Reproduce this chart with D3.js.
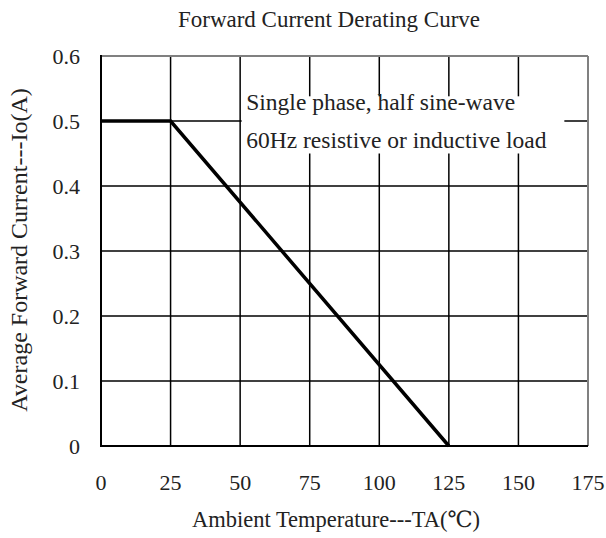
<!DOCTYPE html>
<html>
<head>
<meta charset="utf-8">
<script src="https://cdn.jsdelivr.net/npm/d3@7"></script>
<style>
  body { margin: 0; background: #fff; }
  text { font-family: "Liberation Serif", "DejaVu Serif", serif; fill: #222; }
</style>
</head>
<body>
<script>
var width = 606;
var height = 538;

var xTicks = [0, 25, 50, 75, 100, 125, 150, 175];
var yTicks = [0, 0.1, 0.2, 0.3, 0.4, 0.5, 0.6];
var curveTemp = [0, 25, 125];
var curveCurrent = [0.5, 0.5, 0];
var noteLines = ['Single phase, half sine-wave', '60Hz resistive or inductive load'];

var plotLeft = 101, plotRight = 588, plotTop = 56, plotBottom = 446;

var x = d3.scaleLinear().domain([0, 175]).range([plotLeft, plotRight]);
var y = d3.scaleLinear().domain([0, 0.6]).range([plotBottom, plotTop]);

var svg = d3.select('body').append('svg')
    .attr('width', width)
    .attr('height', height);

// grid
svg.append('g').selectAll('line')
    .data(xTicks.slice(1, -1))
    .enter().append('line')
    .attr('x1', function(d) { return x(d); })
    .attr('x2', function(d) { return x(d); })
    .attr('y1', plotTop).attr('y2', plotBottom)
    .attr('stroke', '#000').attr('stroke-width', 1.5);

svg.append('g').selectAll('line')
    .data(yTicks.slice(1, -1))
    .enter().append('line')
    .attr('x1', plotLeft).attr('x2', plotRight)
    .attr('y1', function(d) { return y(d); })
    .attr('y2', function(d) { return y(d); })
    .attr('stroke', '#000').attr('stroke-width', 1.5);

// frame: top and right grey, left and bottom black
svg.append('line').attr('x1', plotLeft).attr('x2', plotRight).attr('y1', plotTop).attr('y2', plotTop)
    .attr('stroke', '#808080').attr('stroke-width', 2);
svg.append('line').attr('x1', plotRight).attr('x2', plotRight).attr('y1', plotTop).attr('y2', plotBottom)
    .attr('stroke', '#808080').attr('stroke-width', 2);
svg.append('line').attr('x1', plotLeft).attr('x2', plotLeft).attr('y1', plotTop - 1).attr('y2', plotBottom + 1)
    .attr('stroke', '#000').attr('stroke-width', 2);
svg.append('line').attr('x1', plotLeft).attr('x2', plotRight).attr('y1', plotBottom).attr('y2', plotBottom)
    .attr('stroke', '#000').attr('stroke-width', 2);

// note box
svg.append('rect')
    .attr('x', x(50) + 1.5)
    .attr('y', y(0.538))
    .attr('width', x(166.5) - x(50) - 1.5)
    .attr('height', y(0.45) - y(0.538))
    .attr('fill', '#fff');

svg.append('g').selectAll('text')
    .data(noteLines)
    .enter().append('text')
    .attr('x', x(52.2))
    .attr('y', function(d, i) { return 110 + i * 38; })
    .attr('font-size', 23.5)
    .text(function(d) { return d; });

// curve
var line = d3.line()
    .x(function(d) { return x(d[0]); })
    .y(function(d) { return y(d[1]); });

svg.append('path')
    .datum(d3.zip(curveTemp, curveCurrent))
    .attr('d', line)
    .attr('fill', 'none')
    .attr('stroke', '#000')
    .attr('stroke-width', 3.5);

// tick labels
svg.append('g').selectAll('text')
    .data(xTicks)
    .enter().append('text')
    .attr('x', function(d) { return x(d); })
    .attr('y', 490)
    .attr('text-anchor', 'middle')
    .attr('font-size', 22)
    .text(function(d) { return d; });

svg.append('g').selectAll('text')
    .data(yTicks)
    .enter().append('text')
    .attr('x', 80)
    .attr('y', function(d) { return y(d) + 8; })
    .attr('text-anchor', 'end')
    .attr('font-size', 22)
    .text(function(d) { return d === 0 ? '0' : d3.format('.1f')(d); });

// titles
svg.append('text')
    .attr('x', 329).attr('y', 27)
    .attr('text-anchor', 'middle')
    .attr('font-size', 23)
    .text('Forward Current Derating Curve');

svg.append('text')
    .attr('x', 336).attr('y', 527)
    .attr('text-anchor', 'middle')
    .attr('font-size', 22.5)
    .text('Ambient Temperature---TA(℃)');

svg.append('text')
    .attr('transform', 'translate(27, 250) rotate(-90)')
    .attr('text-anchor', 'middle')
    .attr('font-size', 24)
    .text('Average Forward Current---Io(A)');
</script>
</body>
</html>
